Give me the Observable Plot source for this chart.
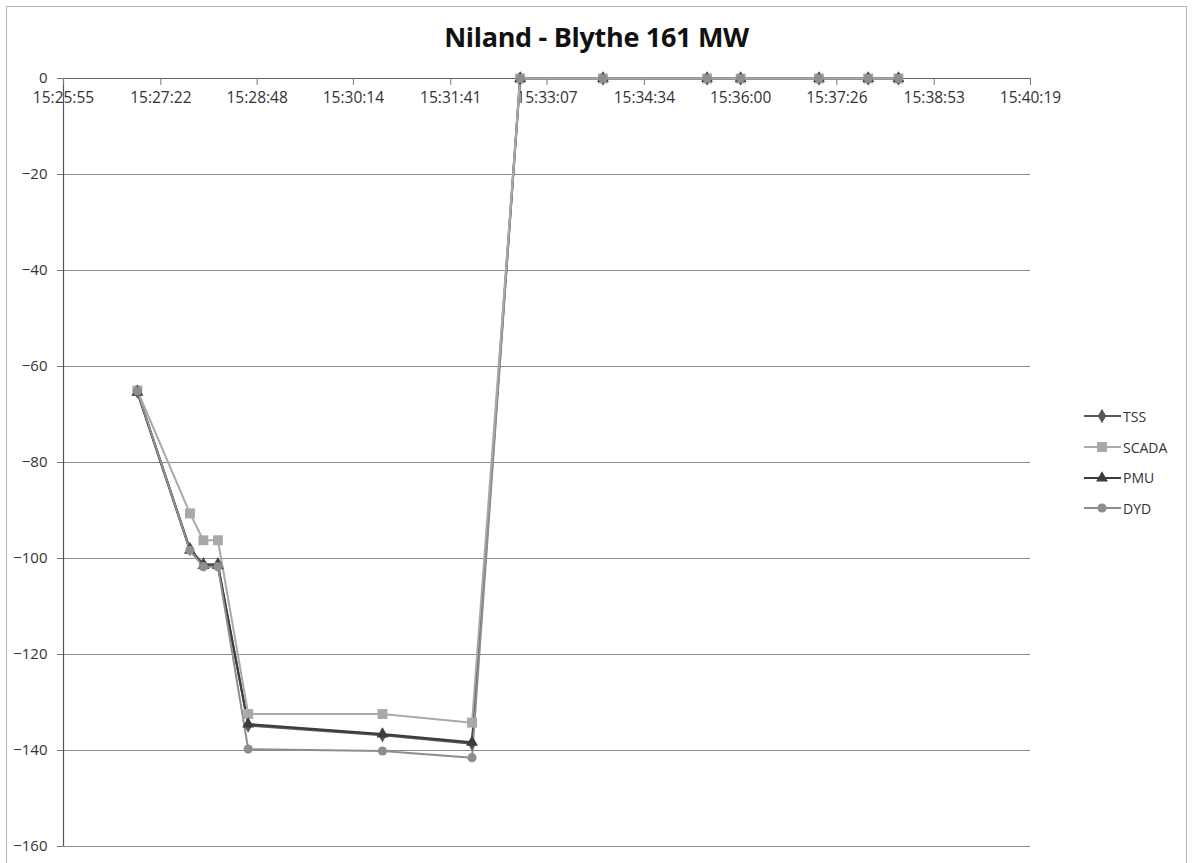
<!DOCTYPE html>
<html>
<head>
<meta charset="utf-8">
<script src="https://cdn.jsdelivr.net/npm/d3@7"></script>
<script src="https://cdn.jsdelivr.net/npm/@observablehq/plot@0.6"></script>
<style>
  html, body { margin: 0; padding: 0; background: #fff; }
  #wrap { position: relative; width: 1193px; height: 863px; overflow: hidden; font-family: "Open Sans", sans-serif; }
  #border { position: absolute; left: 6px; top: 6px; width: 1181px; height: 860px; border: 1px solid #b5b5b5; box-sizing: border-box; }
  #title { position: absolute; left: 0; width: 1193px; top: 19px; text-align: center; font-family: "Open Sans", sans-serif; font-weight: 700; font-size: 27px; line-height: 36px; color: #111; letter-spacing: -0.3px; }
  #legend { position: absolute; left: 1083px; top: 401px; font-size: 14px; color: #333; }
  .item { display: flex; align-items: center; height: 30.7px; }
  .item svg { margin-right: 1px; }
  #chart { position: absolute; left: 0; top: 0; }
</style>
</head>
<body>
<div id="wrap">
  <div id="border"></div>
  <div id="chart"></div>
  <div id="title">Niland - Blythe 161 MW</div>
  <div id="legend"></div>
</div>
<script>
// ---- data ----
const times = ["15:27:01","15:27:48","15:28:00","15:28:13","15:28:40","15:30:40","15:32:00",
               "15:32:43","15:33:57","15:35:30","15:36:00","15:37:10","15:37:54","15:38:21"];
const tss   = [-65.2, -98.0, -101.2, -101.2, -134.8, -136.8, -138.6, 0, 0, 0, 0, 0, 0, 0];
const scada = [-65.0, -90.6, -96.2, -96.2, -132.4, -132.4, -134.2, 0, 0, 0, 0, 0, 0, 0];
const pmu   = [-65.4, -98.3, -101.5, -101.5, -134.5, -136.6, -138.3, 0, 0, 0, 0, 0, 0, 0];
const dyd   = [-65.1, -98.3, -101.7, -101.7, -139.7, -140.1, -141.5, 0, 0, 0, 0, 0, 0, 0];
const seriesNames = ["TSS", "SCADA", "PMU", "DYD"];
const xTickLabels = ["15:25:55","15:27:22","15:28:48","15:30:14","15:31:41","15:33:07",
                     "15:34:34","15:36:00","15:37:26","15:38:53","15:40:19"];
const yTicks = [0, -20, -40, -60, -80, -100, -120, -140, -160];

// ---- styling ----
const styles = {
  TSS:   {color: "#585858", symbol: "diamond", r: 4.4, width: 2},
  SCADA: {color: "#a9a9a9", symbol: "square",  r: 5.6, width: 2},
  PMU:   {color: "#3c3c3c", symbol: "triangle", r: 4.4, width: 2.2},
  DYD:   {color: "#8e8e8e", symbol: "circle",  r: 4.6, width: 2}
};
const lineOrder = ["TSS", "PMU", "DYD", "SCADA"];
const dotOrder = ["SCADA", "TSS", "PMU", "DYD"];

const toSec = s => { const [h, m, x] = s.split(":").map(Number); return h * 3600 + m * 60 + x; };
const valuesBy = {TSS: tss, SCADA: scada, PMU: pmu, DYD: dyd};
const rows = seriesNames.flatMap(name =>
  times.map((t, i) => ({series: name, t: toSec(t), v: valuesBy[name][i]})));

const xTicks = xTickLabels.map(toSec);
const labelOf = new Map(xTicks.map((s, i) => [s, xTickLabels[i]]));

const marks = [
  Plot.gridY(yTicks, {stroke: "#8a8a8a", strokeOpacity: 1, strokeWidth: 1}),
  Plot.axisY(yTicks, {anchor: "left", tickSize: 6, tickPadding: 10, fontSize: 15, color: "#333", stroke: "#777", label: null}),
  Plot.ruleX([xTicks[0]], {stroke: "#555", strokeWidth: 1.2}),
  Plot.ruleY([0], {stroke: "#666", strokeWidth: 1.2}),
  Plot.ruleX(xTicks, {x: d => d, y1: 0, y2: 0, insetBottom: -7, stroke: "#777"}),
  Plot.text(xTicks, {x: d => d, y: 0, text: d => labelOf.get(d), dy: 20, fontSize: 15.5, fill: "#333"})
];
for (const name of lineOrder) {
  const st = styles[name];
  const data = rows.filter(d => d.series === name);
  marks.push(Plot.line(data, {x: "t", y: "v", stroke: st.color, strokeWidth: st.width}));
}
for (const name of dotOrder) {
  const st = styles[name];
  const data = rows.filter(d => d.series === name);
  marks.push(Plot.dot(data, {x: "t", y: "v", symbol: st.symbol, r: st.r, fill: st.color, stroke: "none"}));
}

const chart = Plot.plot({
  width: 1193,
  height: 863,
  marginLeft: 63,
  marginRight: 163,
  marginTop: 78,
  marginBottom: 17,
  style: {fontFamily: "'Open Sans', sans-serif", background: "transparent"},
  x: {type: "linear", domain: [xTicks[0], xTicks[xTicks.length - 1]], axis: null},
  y: {domain: [-160, 0], axis: null},
  symbol: {type: "identity"},
  marks
});
document.getElementById("chart").appendChild(chart);

// ---- legend ----
const legend = d3.select("#legend");
const symGen = {diamond: d3.symbolDiamond, square: d3.symbolSquare, triangle: d3.symbolTriangle, circle: d3.symbolCircle};
for (const name of seriesNames) {
  const st = styles[name];
  const item = legend.append("div").attr("class", "item");
  const svg = item.append("svg").attr("width", 39).attr("height", 14);
  svg.append("line").attr("x1", 1).attr("x2", 38).attr("y1", 7).attr("y2", 7)
     .attr("stroke", st.color).attr("stroke-width", st.width);
  svg.append("path").attr("transform", "translate(19,7)")
     .attr("d", d3.symbol(symGen[st.symbol], Math.PI * st.r * st.r)())
     .attr("fill", st.color);
  item.append("span").text(name);
}
</script>
</body>
</html>
